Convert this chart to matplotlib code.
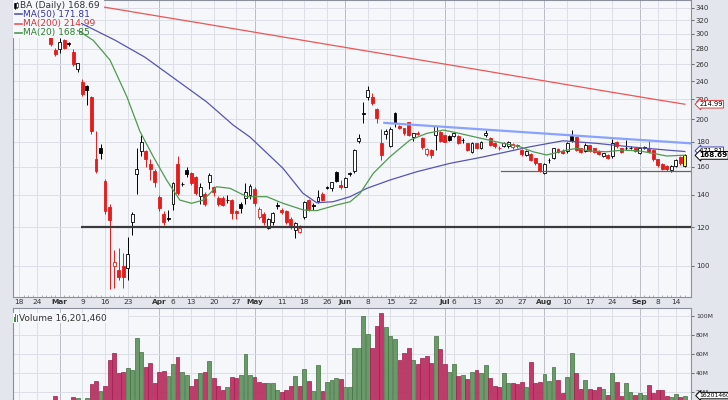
import numpy as np
import pandas as pd
import matplotlib
matplotlib.use('Agg')
import matplotlib.pyplot as plt
from matplotlib.patches import Rectangle
import matplotlib.transforms as mtransforms

plt.rcParams['font.family'] = ['DejaVu Sans']

# ---------------- data ----------------
holidays = ['2020-04-10', '2020-05-25', '2020-07-03', '2020-09-07']
dates = pd.bdate_range('2020-02-18', '2020-09-16')
dates = dates[~dates.isin(pd.to_datetime(holidays))]

opens = [340, 338, 334, 331, 326, 321, 306, 296, 278, 279,
         291, 287, 276, 253.7, 238.5, 234, 222, 166, 175, 149.6,
         132.3, 99.8, 98.1, 100, 98.8, 123.2, 154.4, 171.9, 171.9, 162,
         157, 138.7, 127.9, 125.2, 134.1, 162, 147.5, 157.7, 155, 152.5,
         139, 140.8, 148.9, 145.4, 138.1, 138, 136.8, 136.5, 129.8, 134,
         138, 140, 143.5, 126, 128, 119.6, 122.9, 133.6, 130.2, 129.6,
         124.7, 118.6, 117.4, 126, 136.5, 133.3, 136, 140.8, 145.2, 144.5,
         155.9, 146.5, 145.4, 155, 156.6, 180.5, 206, 222, 222, 210.6,
         178.8, 186.7, 176.7, 206.6, 193.6, 191.7, 197.7, 183.8, 188, 183.4,
         169.6, 173, 185.7, 188.2, 185.7, 185, 184.6, 185, 181.8, 178.7,
         171.8, 178.8, 174.8, 185.7, 183.4, 179, 174.8, 176.4, 176, 175.5,
         177.5, 173, 169.3, 170.2, 166.3, 162.4, 155.5, 165.4, 166.3, 173.6,
         172.5, 172, 184.9, 184.3, 174.3, 172.1, 177, 174.3, 172.5, 168.3,
         169.1, 168.3, 180.1, 174.3, 174.5, 174.9, 174.3, 171, 175.2, 174.3,
         173, 165.5, 162.2, 160.3, 157.3, 160.6, 167.5, 160.6]
highs = [342, 341, 337, 336, 328, 323, 310, 299, 281, 294,
         293, 289, 280, 262, 242, 236, 224, 189, 178, 151,
         134, 107.7, 108.7, 106.2, 114.6, 129, 174.3, 185.7, 173, 166,
         158, 140, 129.5, 130.5, 149, 168.5, 149, 160, 156, 153,
         148, 141.5, 155, 145.8, 139, 139, 139.5, 137, 130.4, 135.4,
         148, 147, 145, 132, 129, 125.5, 129, 135, 131.5, 130,
         126, 123, 121, 136, 137, 134.5, 143, 141.5, 146, 149,
         156.5, 150, 152, 156, 173.5, 186.4, 217.3, 234.3, 226.3, 211,
         191.3, 191.5, 193.2, 207, 194.5, 192, 198, 188, 189, 184,
         174.5, 173.5, 194, 189, 186, 186, 188.5, 185.5, 183, 179,
         179.5, 179, 181, 190, 184, 180, 176, 180, 181, 178.5,
         178, 174, 173, 171, 167, 163, 162.5, 166.5, 175, 175,
         173.5, 179.5, 190, 185, 175, 178.5, 177.5, 175, 173, 171,
         169.5, 182, 181, 175, 181.4, 176, 175, 175, 176, 180.8,
         173.5, 166, 163, 161, 161, 165.5, 168.5, 169.5]
lows = [336, 333, 330, 328, 318, 305, 300, 284, 270, 274,
        279, 283, 258, 250, 224, 214, 187, 155, 166, 128,
        89.5, 90, 93.5, 90, 93.4, 115.6, 140.8, 168.4, 160, 150,
        145, 129.5, 121, 123.4, 130, 139.5, 146, 152, 146.5, 140,
        133.8, 133, 143.6, 139, 132.5, 132.5, 134.5, 124.6, 124.6, 128.6,
        134, 137, 133, 125, 121.5, 119, 121.5, 131, 127.5, 122,
        119, 113.8, 116.5, 125, 129.5, 130.5, 134.5, 136, 143.5, 142.5,
        149, 143.8, 145, 153, 155.5, 178.8, 196.3, 219.2, 214, 196.9,
        165, 182, 175.5, 192.7, 191, 186, 185, 180.9, 185.5, 174,
        168.5, 166.5, 172.9, 180, 179.5, 180.5, 184, 178, 179, 172,
        171, 174, 174, 184.2, 176.5, 175, 173, 175.5, 175, 174,
        175, 168.5, 168.5, 164, 161.5, 156, 154.4, 163, 165.5, 170.5,
        169.5, 171, 179.5, 172, 170.5, 171.5, 171.5, 170.5, 169, 167.5,
        165.5, 167, 175, 170.5, 173, 173.5, 171.5, 170, 173.5, 170.5,
        164.5, 160, 157.5, 157, 156, 160, 161.5, 160]
closes = [338, 335, 332, 334, 321, 307, 302, 286, 273, 289,
          281, 286.5, 260, 261.7, 225.5, 230, 189, 157, 170.4, 129.3,
          124.2, 101.9, 94.9, 94.6, 105.5, 127.5, 158, 180, 165.7, 158,
          149, 131.2, 123, 124.6, 148.2, 141, 147.2, 154.8, 148, 141,
          145.4, 134, 153.7, 142.1, 133.8, 133.5, 136.5, 128.6, 128.4, 131.4,
          142, 146, 134.6, 130.6, 123, 124.6, 128.2, 132.9, 128.8, 122.8,
          121.1, 122.2, 119.6, 135, 130.2, 133, 138.7, 136.5, 144.7, 148.6,
          149.5, 145.4, 151.3, 154.3, 173, 183.5, 205.1, 229.9, 216.1, 201.5,
          168.7, 189.8, 191.3, 196.7, 192.5, 187.2, 185.6, 187.3, 186.5, 175.2,
          173.9, 169.3, 193.6, 180.9, 180, 181.5, 187.3, 179, 181.2, 173,
          178.8, 174.8, 180, 187.9, 177.4, 176, 174.3, 179.2, 180, 178,
          176, 169.7, 172.5, 165, 162.4, 156.8, 161.8, 165, 174.3, 171.8,
          170.4, 178.8, 180.3, 173, 171.6, 177.6, 172.2, 171.6, 169.8, 170.5,
          166.3, 178.8, 176.1, 171.6, 174.3, 174.6, 172.2, 174.3, 174.6, 171.6,
          165.5, 161, 158.4, 157.8, 160.6, 165, 162.4, 168.69]
volume_m = [6.0, 5.0, 5.2, 5.5, 9.0, 10.0, 11.0, 10.5, 15.8, 11.0,
            10.0, 9.5, 15.0, 13.3, 11.0, 13.3, 28.4, 31.2, 21.0, 26.3,
            53.7, 61.4, 39.6, 41.0, 45.6, 42.8, 76.8, 62.5, 46.7, 50.9,
            29.1, 41.0, 41.7, 36.8, 49.8, 56.5, 41.0, 37.5, 26.0, 33.3,
            39.6, 41.0, 52.3, 35.0, 26.3, 22.1, 25.6, 36.1, 34.7, 37.5,
            60.0, 37.5, 36.1, 30.5, 29.8, 29.1, 29.1, 22.5, 20.0, 22.5,
            26.0, 36.8, 26.3, 43.9, 31.9, 21.4, 48.1, 21.0, 30.5, 32.3,
            34.4, 33.3, 25.6, 24.9, 66.0, 66.7, 100.0, 80.7, 66.7, 89.8,
            103.5, 88.8, 78.9, 76.1, 53.3, 60.7, 66.7, 54.0, 49.8, 56.1,
            57.5, 50.9, 78.9, 64.9, 49.1, 41.4, 49.1, 36.8, 37.5, 33.7,
            41.0, 42.8, 39.6, 48.1, 35.0, 26.0, 24.9, 40.4, 29.1, 29.1,
            28.4, 30.2, 24.9, 51.2, 29.1, 30.5, 38.6, 31.2, 46.0, 32.3,
            19.3, 36.1, 60.7, 40.4, 22.8, 32.6, 23.2, 22.1, 25.6, 23.5,
            16.5, 39.6, 30.9, 15.8, 29.1, 20.0, 16.5, 18.9, 16.5, 27.4,
            18.6, 22.5, 21.8, 15.4, 14.7, 17.8, 14.7, 16.20146]

# moving averages (trading-day position, value)
ma20_pos = [9, 13.5, 16.4, 20.1, 23.8, 26.7, 29.6, 32.6, 35.5, 38.1, 40.7, 43.6,
            46.6, 50.3, 54.7, 58.3, 62.8, 65.7, 70.1, 73.1, 75.3, 78.2, 81.9,
            86.3, 90, 93.7, 96.6, 101.3, 106.2, 110.6, 113.5, 116.5, 120.2,
            123.1, 126.1, 129.7, 133.4, 137.1, 140, 143, 147]
ma20_val = [318, 303, 291, 265, 223, 189, 168, 150, 136.5, 134.4, 136.5, 145.4,
            144.3, 138.7, 138.7, 134.4, 130.2, 129.8, 133.3, 135.4, 140.9, 154.9,
            167.6, 181.4, 187.2, 190.2, 187.8, 183.5, 179.2, 175.7, 171.6, 169,
            172.4, 174.4, 172.2, 171.6, 173, 172.2, 170.3, 168.2, 168.85]
ma50_pos = [6, 13.8, 21.2, 27.8, 34.8, 41.4, 47.3, 51, 58.3, 62.7, 65.7, 69.3,
            73.1, 76.8, 81.9, 87.8, 95.1, 102.4, 112.8, 120.1, 127.5, 134.9,
            143, 147]
ma50_val = [332, 315.3, 291.3, 268.7, 241, 217.5, 194.7, 184, 158.6, 140.9,
            134.8, 135.4, 138.7, 144.3, 150.1, 156.1, 162.4, 167.4, 175.7,
            180.8, 178.6, 175.7, 173, 171.81]
ma200_pos = [0, 18, 30, 40, 50, 60, 70, 80, 90, 100, 110, 120, 130, 140, 147]
ma200_val = [364.6, 341.7, 327.3, 315.9, 304.7, 293.9, 283.5, 273.5, 263.8,
             254.5, 245.4, 236.7, 228.3, 220.3, 214.99]

# drawn annotation lines
trend_pos = [80.4, 148.4]
trend_val = [196.9, 178.6]
support_pos = [13.8, 148.4]
support_val = [120.2, 120.2]
base_pos = [106.3, 148.4]
base_val = [156.9, 156.9]

tick_dates = ['2020-02-18', '2020-02-24', '2020-03-02', '2020-03-09', '2020-03-16',
              '2020-03-23', '2020-04-01', '2020-04-06', '2020-04-13', '2020-04-20',
              '2020-04-27', '2020-05-01', '2020-05-11', '2020-05-18', '2020-05-26',
              '2020-06-01', '2020-06-08', '2020-06-15', '2020-06-22', '2020-07-01',
              '2020-07-06', '2020-07-13', '2020-07-20', '2020-07-27', '2020-08-03',
              '2020-08-10', '2020-08-17', '2020-08-24', '2020-09-01', '2020-09-08',
              '2020-09-14']
price_ticks = [100, 120, 140, 160, 180, 200, 220, 240, 260, 280, 300, 320, 340]
vol_ticks = [20, 40, 60, 80, 100]

# ---------------- styling ----------------
W, H = 728, 400
bg_plot = '#f6f7fb'
bg_fig = '#e3e6ed'
red_c = '#e51c1c'
vol_red, vol_red_e = '#c23a6b', '#9c1f4c'
vol_grn, vol_grn_e = '#6a9a6a', '#3f6f3f'

o = np.array(opens); h = np.array(highs); l = np.array(lows); c = np.array(closes)
vol = np.array(volume_m)
n = len(c)
x = np.arange(n)
prev = np.r_[c[0], c[:-1]]
down = c < prev

fig = plt.figure(figsize=(W / 100, H / 100), dpi=100)
fig.patch.set_facecolor(bg_fig)

def fpos(px0, py0, px1, py1):
    return [px0 / W, 1 - py1 / H, (px1 - px0) / W, (py1 - py0) / H]

ax = fig.add_axes(fpos(13, 0, 691, 297))
axv = fig.add_axes(fpos(13, 308, 691, 411))
for a in (ax, axv):
    a.set_facecolor(bg_plot)
    for s in a.spines.values():
        s.set_color('#8a8f99')
        s.set_linewidth(0.8)

xlo, xhi = -1.32, 148.35
ax.set_yscale('log')
ax.set_xlim(xlo, xhi)
ax.set_ylim(86.2, 352.4)
axv.set_xlim(xlo, xhi)
axv.set_ylim(0, 108.4)

# grid
tick_idx = [int(np.searchsorted(dates, pd.Timestamp(d))) for d in tick_dates]
month_start = [pd.Timestamp(d).day <= 3 and i > 0 for i, d in enumerate(tick_dates)]
for a in (ax, axv):
    for ti, ms in zip(tick_idx, month_start):
        a.axvline(ti, color='#b9bdc6' if ms else '#dcdfe6', lw=0.7, zorder=0)
for p in price_ticks:
    ax.axhline(p, color='#dcdfe6', lw=0.7, zorder=0)
for v in vol_ticks:
    axv.axhline(v, color='#dcdfe6', lw=0.7, zorder=0)

# candles
bw = 0.64
for i in range(n):
    col = red_c if down[i] else 'black'
    ax.vlines(x[i], l[i], h[i], color=col, lw=0.7, zorder=2)
    lo_b, hi_b = min(o[i], c[i]), max(o[i], c[i])
    if hi_b - lo_b < 0.35:
        hi_b = lo_b + 0.35
    if i == n - 1:
        fc, ec = '#ffff33', 'black'
    else:
        fc = 'white' if c[i] >= o[i] else col
        ec = col
    ax.add_patch(Rectangle((x[i] - bw / 2, lo_b), bw, hi_b - lo_b,
                           facecolor=fc, edgecolor=ec, lw=0.6, zorder=3))

# moving averages and drawn lines
ax.plot(ma200_pos, ma200_val, color='#ef5555', lw=0.9, zorder=4)
ax.plot(ma50_pos, ma50_val, color='#5555b5', lw=0.9, zorder=4)
ax.plot(ma20_pos, ma20_val, color='#4f9a4f', lw=0.9, zorder=4)
ax.plot(trend_pos, trend_val, color='#8aa2ff', lw=1.6, zorder=4, solid_capstyle='butt')
ax.plot(support_pos, support_val, color='#3a3a3a', lw=1.6, zorder=4, solid_capstyle='butt')
ax.plot(base_pos, base_val, color='#666666', lw=0.9, zorder=4)

# volume bars
axv.bar(x, vol, width=0.86, color=np.where(down, vol_red, vol_grn),
        edgecolor=np.where(down, vol_red_e, vol_grn_e), lw=0.5, zorder=2)

# axes ticks
ax.yaxis.tick_right()
ax.set_yticks(price_ticks)
ax.set_yticklabels([str(p) for p in price_ticks])
ax.yaxis.set_minor_locator(matplotlib.ticker.NullLocator())
ax.tick_params(axis='y', which='major', length=2.5, width=0.6, color='#555555',
               labelsize=5.0, labelcolor='#333333', pad=1)
axv.yaxis.tick_right()
axv.set_yticks(vol_ticks)
axv.set_yticklabels(['%dM' % v for v in vol_ticks])
axv.tick_params(axis='y', length=2.5, width=0.6, color='#555555',
                labelsize=4.4, labelcolor='#333333', pad=1)

tick_lbl = []
for d, ms in zip(tick_dates, month_start):
    ts = pd.Timestamp(d)
    tick_lbl.append(ts.strftime('%b') if ms else str(ts.day))
ax.set_xticks(tick_idx)
ax.set_xticklabels(tick_lbl)
for t, ms in zip(ax.get_xticklabels(), month_start):
    if ms:
        t.set_fontweight('bold')
ax.set_xticks(x, minor=True)
ax.tick_params(axis='x', which='major', length=0, labelsize=5.3,
               labelcolor='#333333', pad=1.5)
ax.tick_params(axis='x', which='minor', length=1.2, width=0.4, color='#777777',
               direction='in')
axv.set_xticks([])

# right-hand value boxes
blend = mtransforms.blended_transform_factory(ax.transAxes, ax.transData)
def value_box(a, tr, yv, txt, ec, bold=False, fs=4.9):
    a.text(1.012, yv, txt, transform=tr, ha='left', va='center', fontsize=fs,
           color='black', fontweight='bold' if bold else 'normal', zorder=10,
           clip_on=False,
           bbox=dict(boxstyle='larrow,pad=0.12', fc='white', ec=ec, lw=0.7))
value_box(ax, blend, ma200_val[-1], '%.2f' % ma200_val[-1], '#e04040')
value_box(ax, blend, ma50_val[-1] + 0.6, '%.2f' % ma50_val[-1], '#4040b0')
value_box(ax, blend, c[-1], '%.2f' % c[-1], 'black', bold=True, fs=5.2)
blendv = mtransforms.blended_transform_factory(axv.transAxes, axv.transData)
value_box(axv, blendv, vol[-1], '%d' % round(vol[-1] * 1e6), 'black', fs=4.4)

# legends (opaque, hiding what is behind them)
def apt(px, py):
    return ((px - 13) / 678, 1 - py / 297)

leg_rows = [('BA (Daily) %.2f' % c[-1], '#333333', None, 104, 5),
            ('MA(50) %.2f' % ma50_val[-1], '#3535a0', '#5555b5', 77, 14.3),
            ('MA(200) %.2f' % ma200_val[-1], '#d03535', '#ef5555', 81, 23.6),
            ('MA(20) %.2f' % ma20_val[-1], '#2f7f2f', '#4f9a4f', 77, 33)]
for txt, tc, lc, xend, yc in leg_rows:
    x0, y0 = apt(13, yc + 4.7)
    x1, y1 = apt(xend, yc - 4.7)
    ax.add_patch(Rectangle((x0, y0), x1 - x0, y1 - y0, transform=ax.transAxes,
                           facecolor=bg_plot, edgecolor='none', zorder=8))
    if lc is not None:
        ax.plot([apt(15, 0)[0], apt(22, 0)[0]], [apt(0, yc)[1]] * 2, color=lc,
                lw=1.2, transform=ax.transAxes, zorder=9)
        tx = apt(23, 0)[0]
    else:
        # small candle icon
        for xi, yb, yt, fc in [(14.5, yc - 1.5, yc + 2.5, 'black'), (17, yc - 2.5, yc + 1.5, 'white')]:
            ax.plot([apt(xi, 0)[0]] * 2, [apt(0, yt + 1)[1], apt(0, yb - 1)[1]], color='black',
                    lw=0.5, transform=ax.transAxes, zorder=9)
            bx0, by0 = apt(xi - 1, yt)
            bx1, by1 = apt(xi + 1, yb)
            ax.add_patch(Rectangle((bx0, by0), bx1 - bx0, by1 - by0, transform=ax.transAxes,
                                   facecolor=fc, edgecolor='black', lw=0.4, zorder=9))
        tx = apt(19.5, 0)[0]
    ax.text(tx, apt(0, yc)[1], txt, transform=ax.transAxes, fontsize=6.5,
            color=tc, va='center', ha='left', zorder=9)

# volume legend
vy = 1 - (318 - 308) / 103.0
axv.add_patch(Rectangle((0, vy - 0.045), 0.17, 0.09, transform=axv.transAxes,
                        facecolor=bg_plot, edgecolor='none', zorder=8))
for k, hh in enumerate([0.05, 0.08, 0.065]):
    axv.add_patch(Rectangle(((14 + 1.3 * k - 13) / 678, vy - 0.04), 1.0 / 678, hh,
                            transform=axv.transAxes, facecolor='#3f8f3f',
                            edgecolor='none', zorder=9))
axv.text((19 - 13) / 678, vy, 'Volume {:,}'.format(int(round(vol[-1] * 1e6))),
         transform=axv.transAxes, fontsize=6.5, color='#333333', va='center',
         ha='left', zorder=9)

fig.savefig('out.png', dpi=100, facecolor=fig.get_facecolor())
